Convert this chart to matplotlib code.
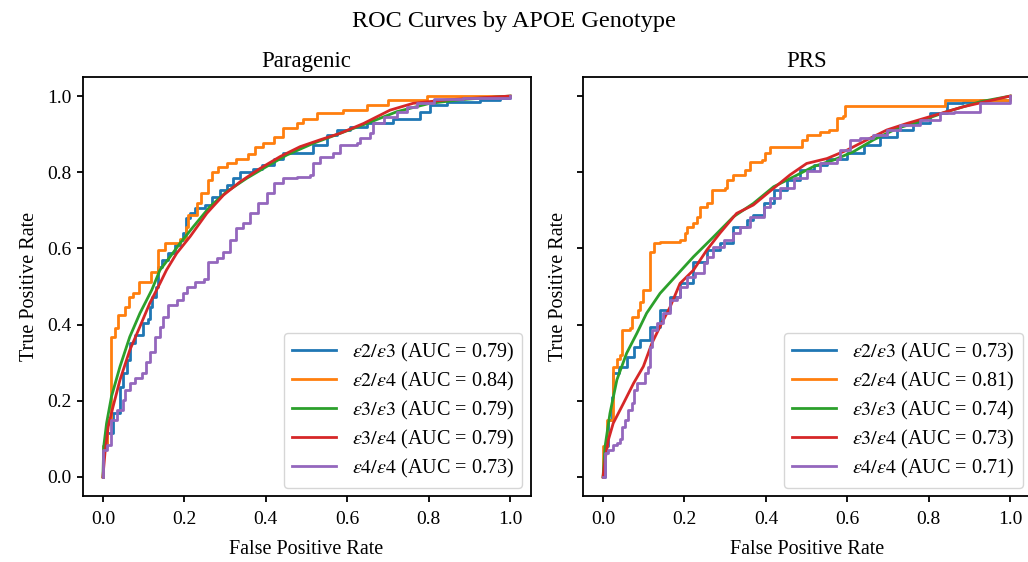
import numpy as np
import matplotlib.pyplot as plt

plt.rcParams['font.family'] = ['Liberation Serif', 'DejaVu Serif']
plt.rcParams['mathtext.fontset'] = 'stix'

labels = [r'$\varepsilon2/\varepsilon3$', r'$\varepsilon2/\varepsilon4$', r'$\varepsilon3/\varepsilon3$',
          r'$\varepsilon3/\varepsilon4$', r'$\varepsilon4/\varepsilon4$']
colors = ['#1f77b4', '#ff7f0e', '#2ca02c', '#d62728', '#9467bd']

# Paragenic
auc_para = [0.79, 0.84, 0.79, 0.79, 0.73]

para_e23_fpr = [0, 0, .009, .025, .042, .05, .058, .066, .079, .099, .111, .115, .12, .13, .136, .144, .161,
                .177, .189, .197, .204, .214, .226, .251, .267, .287, .304, .32, .337, .369, .39, .419, .443,
                .476, .517, .55, .574, .607, .648, .713, .779, .803, .844, .926, .975, 1]
para_e23_tpr = [0, .08, .115, .167, .237, .272, .307, .351, .373, .403, .416, .447, .473, .5, .552, .57, .587,
                .609, .622, .64, .679, .692, .705, .714, .736, .753, .766, .784, .801, .808, .819, .836, .85,
                .851, .871, .898, .911, .92, .93, .941, .959, .976, .985, .99, .994, 1]

para_e24_fpr = [0, 0, .009, .019, .029, .036, .054, .065, .075, .089, .117, .136, .152, .189, .204, .21, .23,
                .24, .258, .269, .283, .304, .328, .357, .373, .394, .419, .443, .476, .492, .525, .59, .648,
                .701, .795, 1]
para_e24_tpr = [0, .08, .15, .368, .39, .425, .447, .473, .482, .513, .539, .596, .613, .626, .657, .688, .718,
                .745, .78, .801, .813, .825, .836, .848, .867, .876, .893, .915, .928, .941, .955, .963, .976,
                .99, 1, 1]

para_e33_fpr = [0, .002, .009, .021, .042, .066, .091, .12, .14, .165, .189, .222, .263, .304, .353, .402,
                .451, .517, .582, .648, .722, .803, .885, 1]
para_e33_tpr = [0, .08, .141, .211, .29, .368, .43, .491, .543, .578, .613, .657, .71, .749, .784, .815,
                .845, .876, .902, .928, .959, .981, .991, 1]

para_e34_fpr = [0, .005, .013, .025, .042, .066, .091, .115, .14, .156, .181, .214, .255, .296, .337, .386,
                .435, .484, .533, .582, .64, .705, .762, .844, 1]
para_e34_tpr = [0, .062, .132, .185, .255, .333, .395, .456, .508, .543, .587, .631, .692, .74, .775, .810,
                .841, .867, .885, .902, .928, .963, .981, .99, 1]

para_e44_fpr = [0, 0, .009, .021, .034, .05, .054, .066, .079, .095, .107, .115, .128, .14, .148, .161, .181,
                .197, .206, .226, .247, .259, .279, .296, .312, .328, .345, .361, .382, .402, .419, .443,
                .476, .509, .517, .533, .566, .582, .623, .631, .656, .664, .689, .722, .746, .771, .812,
                .885, 1]
para_e44_tpr = [0, .071, .084, .15, .176, .202, .228, .246, .259, .272, .303, .329, .368, .395, .421, .451,
                .465, .482, .5, .513, .521, .565, .574, .591, .622, .653, .666, .692, .718, .745, .771, .784,
                .788, .793, .823, .841, .85, .871, .876, .889, .902, .928, .946, .959, .972, .983, .991,
                .996, 1]

# PRS
auc_prs = [0.73, 0.81, 0.74, 0.73, 0.71]

prs_e23_fpr = [0, .005, .013, .021, .025, .038, .058, .075, .091, .115, .14, .165, .189, .222, .255, .287,
               .32, .353, .369, .394, .419, .451, .484, .517, .55, .599, .64, .681, .722, .762, .803, .844,
               .885, .926, 1]
prs_e23_tpr = [0, .08, .15, .211, .272, .29, .316, .342, .36, .395, .438, .473, .508, .565, .596, .613,
               .657, .675, .688, .718, .753, .779, .806, .819, .836, .85, .871, .893, .911, .928, .955,
               .981, .985, .99, 1]

prs_e24_fpr = [0, 0, .009, .025, .025, .034, .042, .046, .066, .07, .087, .091, .099, .115, .115, .124, .14,
               .189, .201, .206, .222, .23, .238, .255, .267, .3, .304, .32, .337, .349, .361, .39, .398,
               .41, .484, .488, .5, .533, .554, .574, .59, .595, .828, .84, .992, 1]
prs_e24_tpr = [0, .08, .15, .22, .29, .311, .32, .386, .39, .421, .438, .46, .491, .495, .591, .613, .618,
               .622, .64, .657, .666, .683, .71, .718, .753, .758, .78, .793, .793, .806, .828, .832, .85,
               .867, .867, .885, .898, .906, .911, .942, .948, .974, .974, .99, .99, 1]

prs_e33_fpr = [0, .005, .017, .034, .058, .083, .107, .14, .181, .222, .271, .32, .369, .419, .468, .517,
               .566, .615, .664, .722, .762, .844, .926, 1]
prs_e33_tpr = [0, .08, .167, .255, .325, .377, .43, .482, .53, .578, .63, .683, .718, .762, .788, .815,
               .832, .854, .885, .915, .928, .959, .985, 1]

prs_e34_fpr = [0, .005, .013, .025, .05, .075, .099, .12, .14, .165, .189, .222, .255, .287, .328, .369,
               .419, .459, .5, .55, .599, .648, .697, .746, .803, .885, 1]
prs_e34_tpr = [0, .045, .097, .141, .193, .246, .29, .351, .395, .447, .508, .543, .596, .640, .692, .714,
               .758, .793, .823, .836, .858, .885, .911, .928, .946, .972, 1]

prs_e44_fpr = [0, .005, .013, .025, .034, .042, .046, .054, .062, .07, .075, .083, .103, .111, .115, .12,
               .132, .148, .165, .181, .189, .206, .226, .247, .255, .271, .296, .32, .337, .361, .394,
               .41, .435, .468, .5, .533, .574, .582, .607, .631, .664, .697, .73, .779, .828, .861, .926, 1]
prs_e44_tpr = [0, .062, .071, .084, .088, .101, .132, .15, .176, .193, .228, .246, .272, .29, .342, .386,
               .403, .43, .465, .473, .5, .526, .535, .561, .578, .605, .622, .64, .657, .683, .709, .732,
               .758, .784, .802, .823, .836, .858, .885, .889, .898, .911, .924, .937, .955, .959, .981, 1]

para_fpr = [para_e23_fpr, para_e24_fpr, para_e33_fpr, para_e34_fpr, para_e44_fpr]
para_tpr = [para_e23_tpr, para_e24_tpr, para_e33_tpr, para_e34_tpr, para_e44_tpr]
prs_fpr = [prs_e23_fpr, prs_e24_fpr, prs_e33_fpr, prs_e34_fpr, prs_e44_fpr]
prs_tpr = [prs_e23_tpr, prs_e24_tpr, prs_e33_tpr, prs_e34_tpr, prs_e44_tpr]
stepped = [True, True, False, False, True]

fig = plt.figure(figsize=(10.28, 5.62), dpi=100)
ax1 = fig.add_axes([0.0803, 0.1174, 0.4358, 0.7456])
ax2 = fig.add_axes([0.5668, 0.1174, 0.4358, 0.7456], sharey=ax1)

panels = [(ax1, 'Paragenic', para_fpr, para_tpr, auc_para),
          (ax2, 'PRS', prs_fpr, prs_tpr, auc_prs)]

for ax, title, fprs, tprs, aucs in panels:
    for i in range(5):
        ds = 'steps-post' if stepped[i] else 'default'
        ax.plot(fprs[i], tprs[i], color=colors[i], lw=2, drawstyle=ds,
                label=f'{labels[i]} (AUC = {aucs[i]:.2f})')
    ax.set_title(title, fontsize=16.5, pad=7)
    ax.set_xlabel('False Positive Rate', fontsize=14.5, labelpad=9)
    ax.set_ylabel('True Positive Rate', fontsize=14.5, labelpad=6)
    ax.tick_params(labelsize=14, width=1.3, length=4.5)
    ax.tick_params(axis='x', pad=6)
    for s in ax.spines.values():
        s.set_linewidth(1.3)
    ax.legend(loc='lower right', fontsize=14.5, handlelength=2.2, labelspacing=0.3,
              borderaxespad=0.4)

ax2.tick_params(labelleft=False)
fig.suptitle('ROC Curves by APOE Genotype', fontsize=17.5, y=0.98)

plt.savefig('out.png')
